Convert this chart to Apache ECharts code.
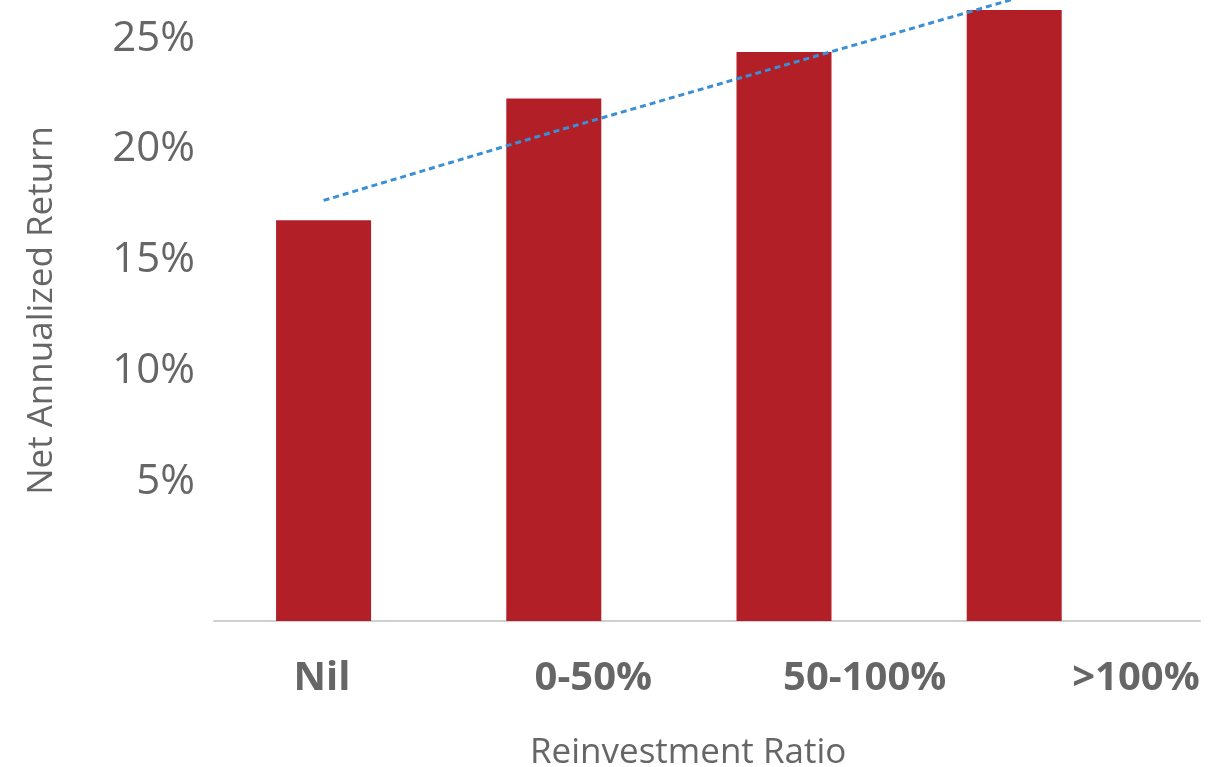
<!DOCTYPE html>
<html>
<head>
<meta charset="utf-8">
<script src="https://cdn.jsdelivr.net/npm/echarts@6/dist/echarts.min.js"></script>
<style>
  html, body { margin: 0; padding: 0; background: #fff; }
  #chart { width: 1220px; height: 767px; }
</style>
</head>
<body>
<div id="chart"></div>
<script>
// data
var categories = ['Nil', '0-50%', '50-100%', '>100%'];
var returns = [16.8, 22.3, 24.4, 26.3];      // bar values, %
var trend = [17.7, 20.8, 23.8, 26.8];        // dotted trend line, %
var yTicks = [5, 10, 15, 20, 25];

var barData = returns.map(function (v, i) { return [i, v]; });
var trendData = trend.map(function (v, i) { return [i, v]; });

var myChart = echarts.init(document.getElementById('chart'));
var option = {
  animation: false,
  title: {
    text: 'Reinvestment Ratio',
    left: 525,
    top: 731,
    textStyle: { fontFamily: 'Open Sans', fontSize: 35, fontWeight: 'normal', color: '#666' }
  },
  grid: [
    { left: 214, right: 20, top: 0, bottom: 146 },   // bars
    { left: 322, right: 84, top: 0, bottom: 146 }    // category labels
  ],
  xAxis: [
    {
      type: 'value',
      gridIndex: 0,
      min: -0.476,
      max: 3.807,
      axisLine: { show: true, onZero: false, lineStyle: { color: '#d0d0d0', width: 2 } },
      axisTick: { show: false },
      axisLabel: { show: false },
      splitLine: { show: false }
    },
    {
      type: 'category',
      gridIndex: 1,
      boundaryGap: false,
      data: categories,
      axisLine: { show: false },
      axisTick: { show: false },
      axisLabel: {
        margin: 38,
        fontFamily: 'Open Sans',
        fontSize: 40,
        fontWeight: 'bold',
        color: '#666'
      }
    }
  ],
  yAxis: [
    {
      type: 'value',
      gridIndex: 0,
      min: -1.29,
      max: 26.75,
      startValue: -1.29,
      name: 'Net Annualized Return',
      nameLocation: 'middle',
      nameRotate: 90,
      nameGap: 154,
      nameTextStyle: { fontFamily: 'Open Sans', fontSize: 35, color: '#666' },
      axisLine: { show: false },
      axisTick: { show: false },
      splitLine: { show: false },
      axisLabel: {
        customValues: yTicks,
        margin: 19,
        formatter: '{value}%',
        fontFamily: 'Open Sans',
        fontSize: 42,
        color: '#666'
      }
    },
    { type: 'value', gridIndex: 1, show: false }
  ],
  series: [
    {
      type: 'bar',
      xAxisIndex: 0,
      yAxisIndex: 0,
      barWidth: 95,
      itemStyle: { color: '#b21f27' },
      data: barData
    },
    {
      type: 'line',
      xAxisIndex: 0,
      yAxisIndex: 0,
      symbol: 'none',
      clip: true,
      lineStyle: { color: '#3b8fd5', width: 3, type: [6, 4] },
      data: trendData
    }
  ]
};
myChart.setOption(option);
</script>
</body>
</html>
